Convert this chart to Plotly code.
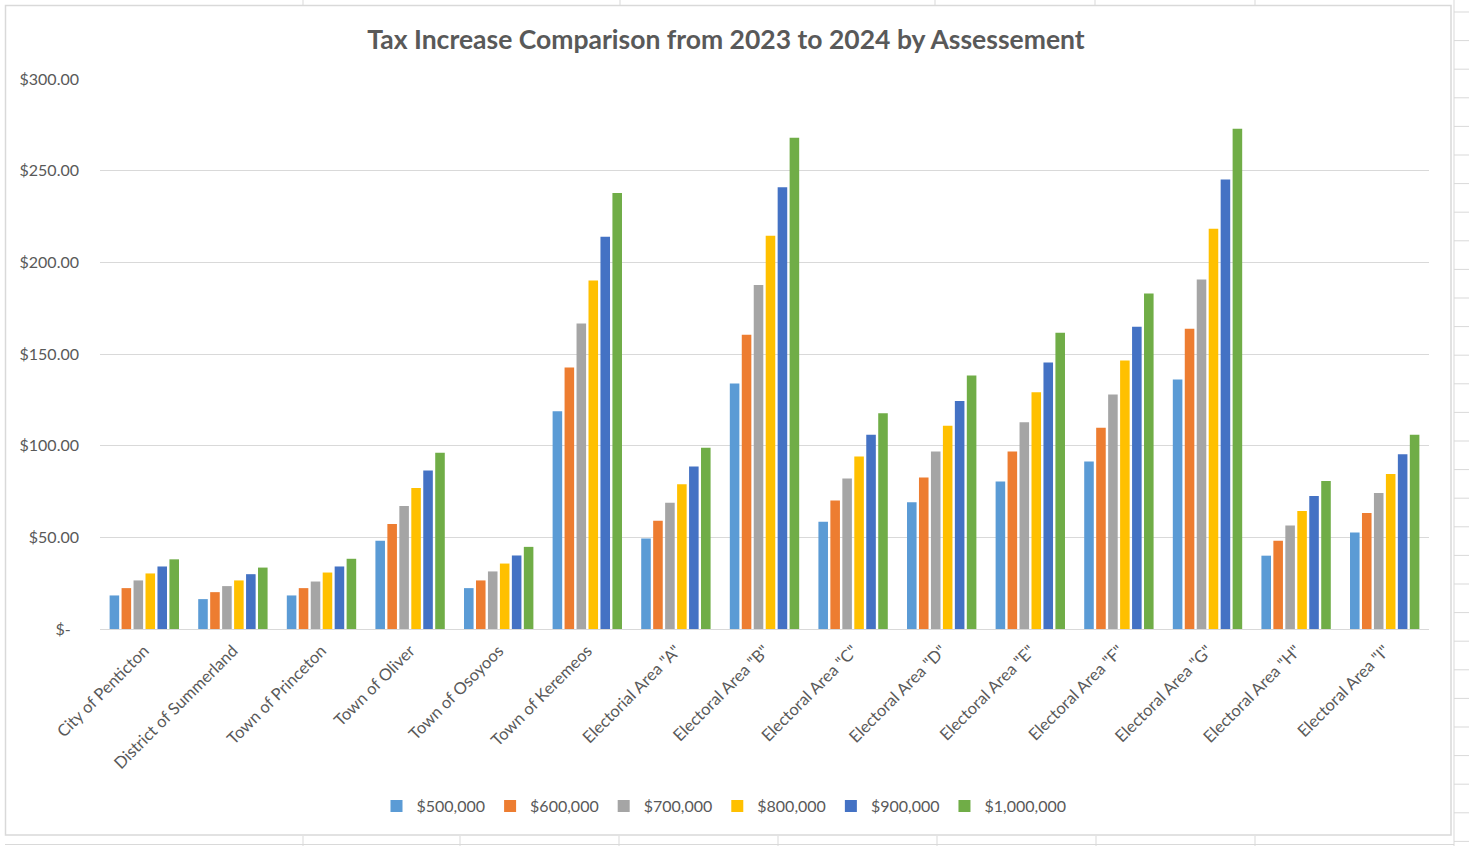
import plotly.graph_objects as go

categories = ["City of Penticton", "District of Summerland", "Town of Princeton", "Town of Oliver",
              "Town of Osoyoos", "Town of Keremeos", 'Electorial Area "A"', 'Electoral Area "B"',
              'Electoral Area "C"', 'Electoral Area "D"', 'Electoral Area "E"', 'Electoral Area "F"',
              'Electoral Area "G"', 'Electoral Area "H"', 'Electoral Area "I"']

series_names = ["$500,000", "$600,000", "$700,000", "$800,000", "$900,000", "$1,000,000"]

v500 = [18.3, 16.3, 18.3, 48.2, 22.3, 118.8, 49.3, 133.9, 58.5, 69.2, 80.5, 91.4, 136.1, 40.0, 52.6]
v600 = [22.3, 20.1, 22.3, 57.3, 26.5, 142.7, 59.1, 160.5, 70.1, 82.6, 96.8, 109.8, 163.8, 48.2, 63.3]
v700 = [26.5, 23.4, 25.9, 67.1, 31.4, 166.7, 68.9, 187.6, 82.1, 96.8, 112.8, 127.9, 190.7, 56.4, 74.2]
v800 = [30.3, 26.5, 30.8, 76.9, 35.7, 190.1, 78.9, 214.5, 94.1, 110.8, 129.2, 146.5, 218.3, 64.4, 84.6]
v900 = [34.1, 29.9, 34.1, 86.5, 40.1, 214.0, 88.7, 241.0, 105.9, 124.3, 145.4, 164.9, 245.2, 72.5, 95.3]
v1000 = [38.0, 33.5, 38.3, 96.2, 44.8, 237.8, 98.9, 268.0, 117.7, 138.3, 161.6, 183.0, 272.9, 80.7, 106.0]

series_values = [v500, v600, v700, v800, v900, v1000]
colors = ["#5B9BD5", "#ED7D31", "#A5A5A5", "#FFC000", "#4472C4", "#70AD47"]

y_ticks = [0, 50, 100, 150, 200, 250, 300]
y_ticktext = ["$-\u00a0\u00a0", "$50.00", "$100.00", "$150.00", "$200.00", "$250.00", "$300.00"]

W, H = 1469, 846
L, R, T, B = 100, 1429, 79, 629
FONT = "Lato"
GREY = "#595959"

fig = go.Figure()
for name, vals, col in zip(series_names, series_values, colors):
    fig.add_trace(go.Bar(x=categories, y=vals, name=name, marker_color=col,
                         marker_line_width=0))

def px_x(p):
    return (p - L) / (R - L)

def px_y(p):
    return (B - p) / (B - T)

shapes = []
line_col = "#D9D9D9"
# chart area border
shapes.append(dict(type="rect", xref="paper", yref="paper",
                   x0=px_x(5.5), x1=px_x(1451), y0=px_y(835), y1=px_y(5.5),
                   line=dict(color=line_col, width=1.5), layer="below"))
# excel cell lines around
shapes.append(dict(type="line", xref="paper", yref="paper",
                   x0=px_x(1454), x1=px_x(1454), y0=px_y(0), y1=px_y(846),
                   line=dict(color=line_col, width=1)))
for xv in [303, 620, 935, 1095, 1255]:
    shapes.append(dict(type="line", xref="paper", yref="paper",
                       x0=px_x(xv), x1=px_x(xv), y0=px_y(0), y1=px_y(5),
                       line=dict(color=line_col, width=1)))
for xv in [303, 460, 619, 778, 937, 1096, 1255]:
    shapes.append(dict(type="line", xref="paper", yref="paper",
                       x0=px_x(xv), x1=px_x(xv), y0=px_y(836), y1=px_y(846),
                       line=dict(color=line_col, width=1)))
shapes.append(dict(type="line", xref="paper", yref="paper",
                   x0=px_x(5), x1=px_x(1454), y0=px_y(844.5), y1=px_y(844.5),
                   line=dict(color=line_col, width=1)))
yy = 12.0
while yy < 846:
    shapes.append(dict(type="line", xref="paper", yref="paper",
                       x0=px_x(1454), x1=px_x(1469), y0=px_y(yy), y1=px_y(yy),
                       line=dict(color=line_col, width=1)))
    yy += 28.6

fig.update_layout(
    width=W, height=H,
    margin=dict(l=L, r=W - R, t=T, b=H - B, autoexpand=False),
    paper_bgcolor="white", plot_bgcolor="white",
    barmode="group", bargap=0.19, bargroupgap=0.2,
    font=dict(family=FONT, color=GREY, size=16),
    title=dict(text="<b>Tax Increase Comparison from 2023 to 2024 by Assessement</b>",
               x=726 / W, xref="container", xanchor="center",
               y=1 - 40 / H, yref="container", yanchor="middle",
               font=dict(family=FONT, size=26.5, color=GREY)),
    xaxis=dict(tickangle=-45, tickfont=dict(size=16.5, color=GREY),
               showgrid=False, showline=False, ticks="", automargin=False,
               ticklabelstandoff=8),
    yaxis=dict(range=[0, 300], tickvals=y_ticks, ticktext=y_ticktext,
               showgrid=True, gridcolor=line_col, gridwidth=1.3,
               zeroline=True, zerolinecolor=line_col, zerolinewidth=1.3,
               showline=False, ticks="", ticklabelstandoff=20,
               tickfont=dict(size=16, color=GREY), automargin=False),
    legend=dict(orientation="h", x=px_x(724), xanchor="center",
                y=px_y(806), yanchor="middle", font=dict(size=16, color=GREY),
                bgcolor="rgba(0,0,0,0)"),
    shapes=shapes,
)

fig.write_html("out.html", config={"displayModeBar": False},
               post_script="document.body.style.margin='0px';document.body.style.padding='0px';")
